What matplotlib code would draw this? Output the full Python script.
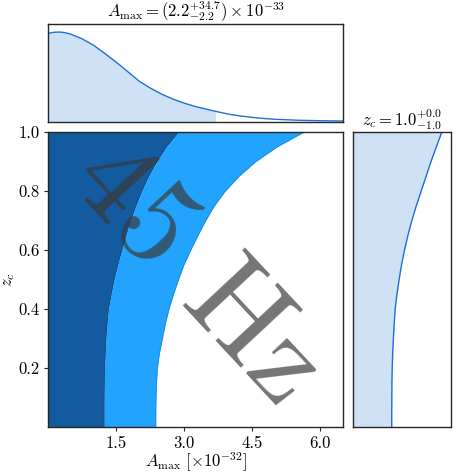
import numpy as np
import matplotlib
matplotlib.use("Agg")
import matplotlib.pyplot as plt
from matplotlib.ticker import FormatStrFormatter

plt.rcParams['font.family'] = 'serif'
plt.rcParams['font.serif'] = ['cmr10']
plt.rcParams['mathtext.fontset'] = 'cm'
plt.rcParams['axes.formatter.use_mathtext'] = True
plt.rcParams['axes.unicode_minus'] = False

# 2D credible region boundaries (A_max in 1e-32, vs z_c)
zc_grid = [0.0, 0.05, 0.1, 0.15, 0.2, 0.25, 0.3, 0.35, 0.4, 0.45, 0.5,
           0.55, 0.6, 0.65, 0.7, 0.75, 0.8, 0.85, 0.9, 0.95, 1.0]
amax_inner = [1.23, 1.23, 1.23, 1.235, 1.24, 1.255, 1.27, 1.295, 1.325, 1.385, 1.45,
              1.53, 1.62, 1.71, 1.81, 1.93, 2.06, 2.21, 2.39, 2.60, 2.87]
amax_outer = [2.37, 2.37, 2.375, 2.385, 2.405, 2.45, 2.515, 2.58, 2.66, 2.76, 2.87,
              2.99, 3.14, 3.30, 3.47, 3.66, 3.90, 4.20, 4.57, 5.04, 5.63]

# marginal of A_max (1e-32)
amax_x = [0.0, 0.125, 0.25, 0.375, 0.5, 0.75, 1.0, 1.25, 1.5, 1.75, 2.0, 2.25, 2.5,
          2.75, 3.0, 3.25, 3.5, 3.75, 4.0, 4.25, 4.5, 4.75, 5.0, 5.5, 6.0, 6.5]
amax_pdf = [0.908, 0.918, 0.921, 0.914, 0.898, 0.85, 0.785, 0.70, 0.61, 0.515,
            0.418, 0.345, 0.283, 0.232, 0.19, 0.155, 0.127, 0.100, 0.075, 0.058,
            0.044, 0.033, 0.025, 0.015, 0.010, 0.007]
amax_upper = 3.69

# marginal of z_c
zc_pdf = [0.395, 0.395, 0.396, 0.397, 0.400, 0.405, 0.412, 0.42, 0.43, 0.448, 0.47,
          0.495, 0.525, 0.56, 0.60, 0.645, 0.695, 0.745, 0.795, 0.85, 0.905]

dark = '#135a9e'
light = '#22a3fd'
line_c = '#1f70d2'
fill_c = '#cfe2f5'
spine_c = '#262626'

fig = plt.figure(figsize=(4.75, 4.75), dpi=100)
ax = fig.add_axes([0.1017, 0.1011, 0.6204, 0.6204])
ax_top = fig.add_axes([0.1017, 0.7438, 0.6204, 0.205])
ax_right = fig.add_axes([0.7432, 0.1011, 0.2063, 0.6204])

# main panel
ax.fill_betweenx(zc_grid, 0, amax_inner, color=dark, lw=0)
ax.fill_betweenx(zc_grid, amax_inner, amax_outer, color=light, lw=0)
ax.plot(amax_inner, zc_grid, color='#0f4f8f', lw=0.6)
ax.plot(amax_outer, zc_grid, color='#1a8ee0', lw=0.6)
ax.set_xlim(0, 6.5)
ax.set_ylim(0, 1)
ax.set_xticks([1.5, 3.0, 4.5, 6.0])
ax.set_yticks([0.2, 0.4, 0.6, 0.8, 1.0])
ax.xaxis.set_major_formatter(FormatStrFormatter('%.1f'))
ax.yaxis.set_major_formatter(FormatStrFormatter('%.1f'))
ax.tick_params(labelsize=12, length=3, width=0.8, color=spine_c, pad=3)
ax.set_xlabel(r'$A_\mathrm{max}$ [$\times 10^{-32}$]', fontsize=12, labelpad=0)
ax.set_ylabel(r'$z_c$', fontsize=12, labelpad=1)
ax.text(3.27, 0.515, '45 Hz', fontsize=89, color='#3a3a3a', alpha=0.7,
        rotation=-47, ha='center', va='center', rotation_mode='anchor')

# top marginal
ax_top.plot(amax_x, amax_pdf, color=line_c, lw=1.0)
xs = np.linspace(0, amax_upper, 200)
ax_top.fill_between(xs, 0, np.interp(xs, amax_x, amax_pdf), color=fill_c, lw=0)
ax_top.set_xlim(0, 6.5)
ax_top.set_ylim(0, 1)
ax_top.set_xticks([])
ax_top.set_yticks([])
ax_top.set_title(r'$A_\mathrm{max} = (2.2^{+34.7}_{-2.2}) \times 10^{-33}$',
                 fontsize=12, pad=2)

# right marginal
ax_right.plot(zc_pdf, zc_grid, color=line_c, lw=1.0)
ax_right.fill_betweenx(zc_grid, 0, zc_pdf, color=fill_c, lw=0)
ax_right.set_xlim(0, 1)
ax_right.set_ylim(0, 1)
ax_right.set_xticks([])
ax_right.set_yticks([])
ax_right.set_title(r'$z_c = 1.0^{+0.0}_{-1.0}$', fontsize=12, pad=2)

for a in (ax, ax_top, ax_right):
    for s in a.spines.values():
        s.set_color(spine_c)
        s.set_linewidth(1.0)

fig.savefig('out.png', dpi=100)
